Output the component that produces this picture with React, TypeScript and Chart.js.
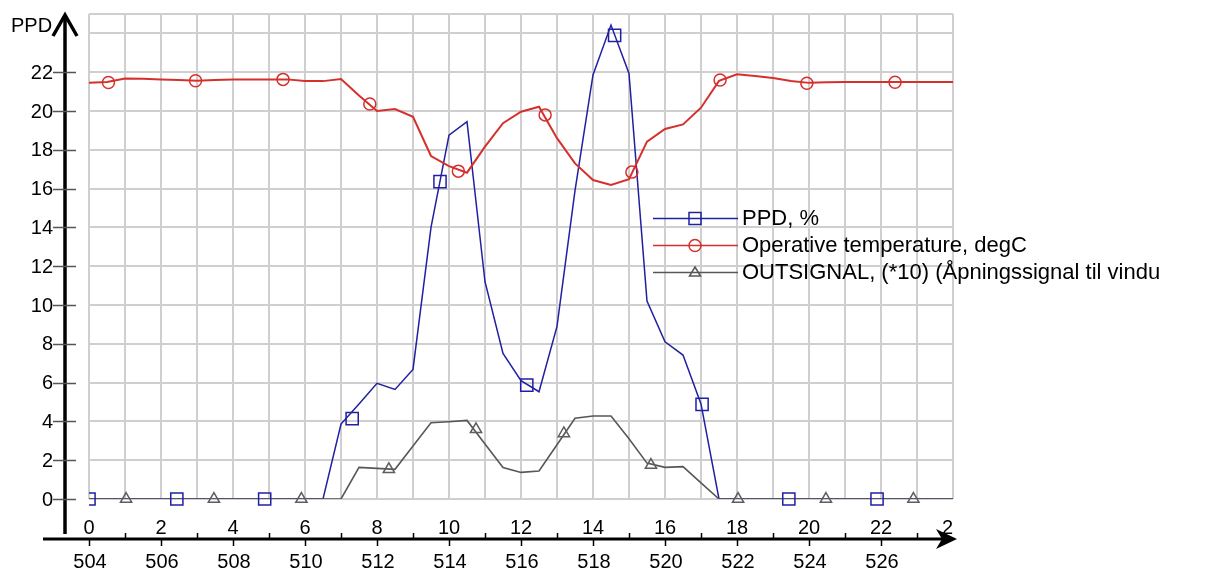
import React, { useEffect, useRef } from 'react';
import { Chart, registerables } from 'chart.js';

Chart.register(...registerables);

// ---------- data ----------
const hours = [0, 0.5, 1, 1.5, 2, 2.5, 3, 3.5, 4, 4.5, 5, 5.5, 6, 6.5, 7, 7.5, 8, 8.5, 9, 9.5, 10, 10.5, 11, 11.5, 12, 12.5, 13, 13.5, 14, 14.5, 15, 15.5, 16, 16.5, 17, 17.5, 18, 18.5, 19, 19.5, 20, 20.5, 21, 21.5, 22, 22.5, 23, 23.5, 24];

const ppd = [0, 0, 0, 0, 0, 0, 0, 0, 0, 0, 0, 0, 0, 0,
  3.86, 4.9, 5.96, 5.65, 6.68, 14.0, 18.76, 19.45, 11.2, 7.5, 6.1, 5.53, 8.9, 15.9, 21.86, 24.43, 21.94, 10.2, 8.1, 7.42, 4.9, 0,
  0, 0, 0, 0, 0, 0, 0, 0, 0, 0, 0, 0, 0];

const operativeTemp = [21.45, 21.5, 21.68, 21.66, 21.62, 21.6, 21.56, 21.6, 21.63, 21.63, 21.63, 21.63, 21.55, 21.54, 21.65,
  20.8, 20.0, 20.1, 19.7, 17.68, 17.16, 16.82, 18.16, 19.37, 19.96, 20.22, 18.6, 17.3, 16.44, 16.19, 16.48, 18.42, 19.07, 19.31, 20.17, 21.55, 21.89,
  21.8, 21.7, 21.55, 21.45, 21.48, 21.5, 21.5, 21.5, 21.5, 21.5, 21.5, 21.5];

const outSignal = [0, 0, 0, 0, 0, 0, 0, 0, 0, 0, 0, 0, 0, 0, 0,
  1.63, 1.58, 1.53, 2.73, 3.93, 3.98, 4.05, 2.83, 1.62, 1.37, 1.44, 2.8, 4.16, 4.28, 4.28, 3.1, 1.85, 1.63, 1.67, 0.83, 0,
  0, 0, 0, 0, 0, 0, 0, 0, 0, 0, 0, 0, 0];

const ppdMarkerHours = [0, 2.44, 4.88, 7.31, 9.75, 12.16, 14.6, 17.03, 19.44, 21.89];
const ppdMarkerValues = [0, 0, 0, 4.14, 16.36, 5.87, 23.9, 4.88, 0, 0];
const tempMarkerHours = [0.54, 2.96, 5.39, 7.8, 10.26, 12.67, 15.08, 17.53, 19.94, 22.39];
const tempMarkerValues = [21.47, 21.56, 21.63, 20.36, 16.9, 19.8, 16.85, 21.6, 21.43, 21.48];
const sigMarkerHours = [1.03, 3.47, 5.9, 8.33, 10.75, 13.19, 15.61, 18.03, 20.47, 22.9];
const sigMarkerValues = [0, 0, 0, 1.53, 3.59, 3.38, 1.75, 0, 0, 0];

const legendLabels = ['PPD, %', 'Operative temperature, degC', 'OUTSIGNAL, (*10) (Åpningssignal til vindu'];
const yAxisTitle = 'PPD';

const yTickValues = [0, 2, 4, 6, 8, 10, 12, 14, 16, 18, 20, 22];
const yGridValues = [0, 2, 4, 6, 8, 10, 12, 14, 16, 18, 20, 22, 24, 25];
const xGridValues = [0, 1, 2, 3, 4, 5, 6, 7, 8, 9, 10, 11, 12, 13, 14, 15, 16, 17, 18, 19, 20, 21, 22, 23, 24];
const xTopLabels = [0, 2, 4, 6, 8, 10, 12, 14, 16, 18, 20, 22, 24];
const xBottomLabelHours = [0, 2, 4, 6, 8, 10, 12, 14, 16, 18, 20, 22];
const xBottomLabels = ['504', '506', '508', '510', '512', '514', '516', '518', '520', '522', '524', '526'];
const xOddTickHours = [1, 3, 5, 7, 9, 11, 13, 15, 17, 19, 21, 23];

// ---------- style ----------
const W = 1205;
const H = 571;
const FONT = '"Liberation Sans", Arial, sans-serif';
const BLUE = '#2020a2';
const RED = '#d6302d';
const GRAY = '#575757';
const GRID = '#cfcfcf';

const pts = (xs: number[], ys: number[]) => xs.map((x, i) => ({ x, y: ys[i] }));

function drawMarker(ctx: CanvasRenderingContext2D, kind: string, x: number, y: number, color: string) {
  ctx.save();
  ctx.strokeStyle = color;
  ctx.lineWidth = 1.5;
  ctx.beginPath();
  if (kind === 'rect') {
    ctx.rect(x - 6, y - 6, 12, 12);
  } else if (kind === 'circle') {
    ctx.arc(x, y, 6, 0, Math.PI * 2);
  } else {
    ctx.moveTo(x, y - 5.5);
    ctx.lineTo(x + 5.5, y + 3.5);
    ctx.lineTo(x - 5.5, y + 3.5);
    ctx.closePath();
  }
  ctx.stroke();
  ctx.restore();
}

const decorPlugin = {
  id: 'decor',
  beforeDatasetsDraw(chart: any) {
    const { ctx, chartArea: a, scales } = chart;
    const xs = scales.x;
    const ys = scales.y;
    ctx.save();
    ctx.strokeStyle = GRID;
    ctx.lineWidth = 2;
    ctx.beginPath();
    for (const v of xGridValues) {
      const px = Math.round(xs.getPixelForValue(v));
      ctx.moveTo(px, a.top);
      ctx.lineTo(px, a.bottom);
    }
    for (const v of yGridValues) {
      const py = Math.round(ys.getPixelForValue(v));
      ctx.moveTo(a.left, py);
      ctx.lineTo(a.right, py);
    }
    ctx.stroke();
    ctx.restore();
  },
  afterDraw(chart: any) {
    const { ctx, chartArea: a, scales } = chart;
    const xs = scales.x;
    const ys = scales.y;
    const axisX = a.left - 24;
    const axisY = a.bottom + 40;
    ctx.save();
    ctx.fillStyle = '#000';
    ctx.strokeStyle = '#000';
    ctx.lineCap = 'butt';

    // y axis line + arrow
    ctx.lineWidth = 3.5;
    ctx.beginPath();
    ctx.moveTo(axisX, axisY - 5);
    ctx.lineTo(axisX, a.top + 4);
    ctx.stroke();
    ctx.lineJoin = 'miter';
    ctx.beginPath();
    ctx.moveTo(axisX - 12, a.top + 22);
    ctx.lineTo(axisX, a.top + 1);
    ctx.lineTo(axisX + 12, a.top + 22);
    ctx.stroke();

    // y ticks and labels
    ctx.strokeStyle = '#555';
    ctx.lineWidth = 1.5;
    ctx.beginPath();
    for (const v of yTickValues) {
      const py = Math.round(ys.getPixelForValue(v)) + 0.5;
      ctx.moveTo(axisX - 12, py);
      ctx.lineTo(axisX + 11, py);
    }
    ctx.stroke();
    ctx.fillStyle = '#000';
    ctx.font = `20px ${FONT}`;
    ctx.textAlign = 'right';
    ctx.textBaseline = 'middle';
    for (const v of yTickValues) {
      ctx.fillText(String(v), axisX - 12, ys.getPixelForValue(v) + 1);
    }
    ctx.textAlign = 'left';
    ctx.fillText(yAxisTitle, 11, a.top + 12);

    // x axis line + arrow
    ctx.strokeStyle = '#000';
    ctx.lineWidth = 3;
    ctx.beginPath();
    ctx.moveTo(43, axisY);
    ctx.lineTo(a.right - 8, axisY);
    ctx.stroke();
    ctx.beginPath();
    ctx.moveTo(a.right + 4, axisY);
    ctx.lineTo(a.right - 17, axisY - 10);
    ctx.lineTo(a.right - 11, axisY);
    ctx.lineTo(a.right - 17, axisY + 10);
    ctx.closePath();
    ctx.fill();

    // x ticks
    ctx.lineWidth = 1.5;
    ctx.beginPath();
    for (const v of xOddTickHours) {
      const px = Math.round(xs.getPixelForValue(v)) + 0.5;
      ctx.moveTo(px, axisY - 6);
      ctx.lineTo(px, axisY);
    }
    for (const v of xBottomLabelHours) {
      const px = Math.round(xs.getPixelForValue(v)) + 0.5;
      ctx.moveTo(px, axisY);
      ctx.lineTo(px, axisY + 7);
    }
    ctx.stroke();

    // x labels
    ctx.font = `20px ${FONT}`;
    ctx.textAlign = 'center';
    ctx.textBaseline = 'middle';
    ctx.save();
    ctx.beginPath();
    ctx.rect(0, 0, a.right, H);
    ctx.clip();
    for (const v of xTopLabels) {
      ctx.fillText(String(v), xs.getPixelForValue(v), a.bottom + 29);
    }
    ctx.restore();
    xBottomLabelHours.forEach((v, i) => {
      ctx.fillText(xBottomLabels[i], xs.getPixelForValue(v) + 1, axisY + 23);
    });

    // legend
    const rows = [218, 245, 272];
    const colors = [BLUE, RED, GRAY];
    const kinds = ['rect', 'circle', 'triangle'];
    ctx.font = `22px ${FONT}`;
    ctx.textAlign = 'left';
    ctx.textBaseline = 'middle';
    rows.forEach((ry, i) => {
      ctx.strokeStyle = colors[i];
      ctx.lineWidth = 1.5;
      ctx.beginPath();
      ctx.moveTo(653, ry + 0.5);
      ctx.lineTo(738, ry + 0.5);
      ctx.stroke();
      drawMarker(ctx, kinds[i], 695, ry + 0.5, colors[i]);
      ctx.fillStyle = '#000';
      ctx.fillText(legendLabels[i], 742, ry + 1);
    });
    ctx.restore();
  },
};

export default function App() {
  const ref = useRef<HTMLCanvasElement>(null);
  useEffect(() => {
    document.body.style.margin = '0';
    const canvas = ref.current;
    if (!canvas) return;
    const markerClip = { left: 0, top: false, right: false, bottom: false } as any;
    const chart = new Chart(canvas, {
      type: 'line',
      data: {
        datasets: [
          {
            label: 'ppd-markers', data: pts(ppdMarkerHours, ppdMarkerValues), showLine: false,
            pointStyle: 'rect', pointRadius: 8.6, pointBorderWidth: 1.5, pointBorderColor: BLUE,
            pointBackgroundColor: 'rgba(0,0,0,0)', borderColor: BLUE, order: 0, clip: markerClip,
          },
          {
            label: 'temp-markers', data: pts(tempMarkerHours, tempMarkerValues), showLine: false,
            pointStyle: 'circle', pointRadius: 6, pointBorderWidth: 1.5, pointBorderColor: RED,
            pointBackgroundColor: 'rgba(0,0,0,0)', borderColor: RED, order: 0, clip: markerClip,
          },
          {
            label: 'sig-markers', data: pts(sigMarkerHours, sigMarkerValues), showLine: false,
            pointStyle: 'triangle', pointRadius: 6.5, pointBorderWidth: 1.5, pointBorderColor: '#5e5e5e',
            pointBackgroundColor: 'rgba(0,0,0,0)', borderColor: GRAY, order: 0, clip: markerClip,
          },
          {
            label: legendLabels[2], data: pts(hours, outSignal), borderColor: GRAY, borderWidth: 1.6,
            pointRadius: 0, tension: 0, order: 1,
          },
          {
            label: legendLabels[1], data: pts(hours, operativeTemp), borderColor: RED, borderWidth: 2,
            pointRadius: 0, tension: 0, order: 2,
          },
          {
            label: legendLabels[0], data: pts(hours, ppd), borderColor: BLUE, borderWidth: 1.5,
            pointRadius: 0, tension: 0, order: 3,
          },
        ],
      },
      options: {
        responsive: false,
        animation: false,
        devicePixelRatio: 1,
        layout: { padding: { left: 89, right: W - 953, top: 14, bottom: H - 499 } },
        scales: {
          x: { type: 'linear', display: false, min: 0, max: 24 },
          y: { type: 'linear', display: false, min: 0, max: 25 },
        },
        plugins: { legend: { display: false }, tooltip: { enabled: false } },
        events: [],
      },
      plugins: [decorPlugin],
    });
    return () => chart.destroy();
  }, []);
  return (
    <div style={{ position: 'fixed', left: 0, top: 0, width: W, height: H, background: '#fff' }}>
      <canvas ref={ref} width={W} height={H} style={{ width: W, height: H, display: 'block' }} />
    </div>
  );
}
